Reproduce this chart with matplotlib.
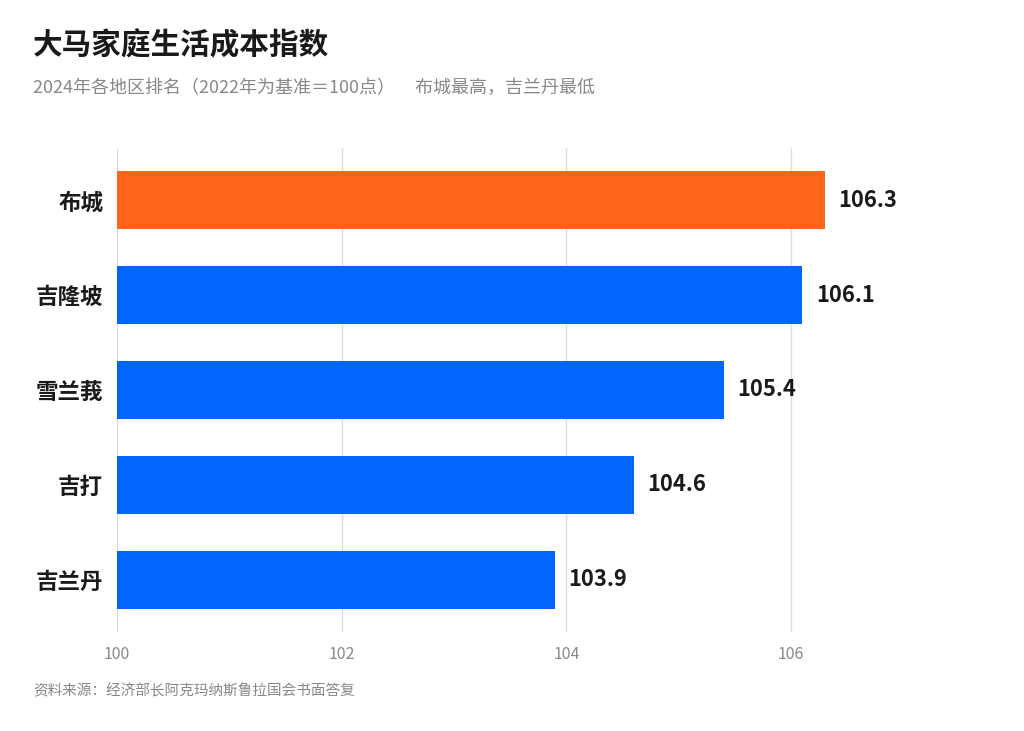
import matplotlib
matplotlib.use("Agg")
import matplotlib.pyplot as plt

plt.rcParams['font.family'] = ['Noto Sans CJK SC', 'DejaVu Sans']

# Data
regions = ["布城", "吉隆坡", "雪兰莪", "吉打", "吉兰丹"]
values = [106.3, 106.1, 105.4, 104.6, 103.9]
highlight = "布城"
xticks = [100, 102, 104, 106]

ORANGE = "#FF641A"
BLUE = "#0066FF"
DARK = "#1a1a1a"
GRAY = "#888888"

fig = plt.figure(figsize=(10.24, 7.31), dpi=100)
ax = fig.add_axes([117/1024, 1 - 632/731, (1000 - 117)/1024, (632 - 148)/731])

colors = [ORANGE if r == highlight else BLUE for r in regions]
ypos = list(range(len(regions)))
ax.barh(ypos, [v - 100 for v in values], left=100, height=0.61,
        color=colors, zorder=2)

for y, v in zip(ypos, values):
    ax.text(v + 0.12, y, f"{v:.1f}", va="center", ha="left",
            fontsize=15.8, fontweight="bold", color=DARK)

ax.set_xlim(100, 107.86)
ax.set_ylim(len(regions) - 0.45, -0.55)
ax.set_yticks(ypos)
ax.set_yticklabels(regions, fontsize=16.2, fontweight="bold", color=DARK)
ax.set_xticks(xticks)
ax.set_xticklabels([str(t) for t in xticks], fontsize=11.5, color=GRAY)
ax.tick_params(axis="both", length=0)
ax.tick_params(axis="y", pad=10)
ax.tick_params(axis="x", pad=10)
ax.grid(axis="x", color="#dddddd", linewidth=1, zorder=0)
for s in ax.spines.values():
    s.set_visible(False)

fig.text(33/1024, 1 - 45/731, "大马家庭生活成本指数", fontsize=21.3,
         fontweight="bold", color=DARK, va="center", ha="left")
fig.text(33/1024, 1 - 88/731,
         "2024年各地区排名（2022年为基准＝100点）     布城最高，吉兰丹最低",
         fontsize=13, color=GRAY, va="center", ha="left")
fig.text(33/1024, 1 - 691/731, "资料来源：经济部长阿克玛纳斯鲁拉国会书面答复",
         fontsize=10.5, color=GRAY, va="center", ha="left")

fig.savefig("out.png", dpi=100, facecolor="white")
